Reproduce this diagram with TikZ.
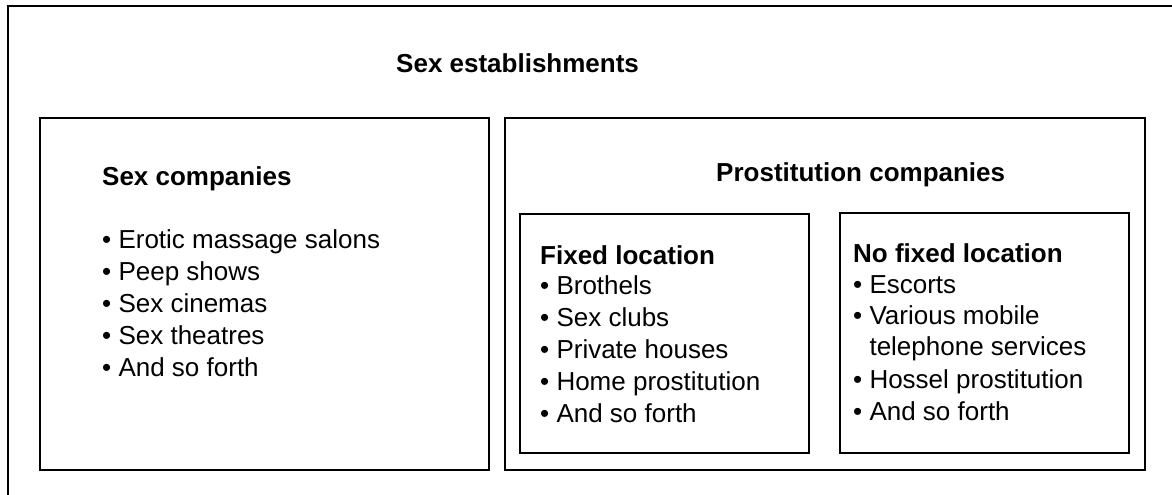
\documentclass[tikz,border=0pt]{standalone}
\usepackage{fontspec}
\setmainfont{Liberation Sans}
\begin{document}
\begin{tikzpicture}[x=1pt,y=-1pt,
  frame/.style={draw, line width=1.8pt, inner sep=0pt, anchor=north west},
  head/.style={font=\fontsize{26}{31}\selectfont\bfseries, anchor=base west, inner sep=0pt},
  item/.style={font=\fontsize{26}{31}\selectfont, anchor=base west, inner sep=0pt}]
\useasboundingbox (0,0) rectangle (1172,495);
% outer frame (cropped at the right and bottom)
\node[frame, minimum width=1200pt, minimum height=520pt] (outer) at (7,5) {};
\node[head] (title) at (396,72) {Sex establishments};
% sex companies
\node[frame, minimum width=449pt, minimum height=352pt] (sexbox) at (39,117) {};
\node[head] (sexhead) at (102,185) {Sex companies};
\foreach \t [count=\i] in {Erotic massage salons, Peep shows, Sex cinemas, Sex theatres, And so forth}
  \node[item] (s\i) at (102,{248+32*(\i-1)}) {• \t};
% prostitution companies
\node[frame, minimum width=640pt, minimum height=352pt] (probox) at (504,117) {};
\node[head] (prohead) at (716,181) {Prostitution companies};
% fixed location
\node[frame, minimum width=289pt, minimum height=239pt] (fixbox) at (519,213) {};
\node[head] (fixhead) at (540,264) {Fixed location};
\foreach \t [count=\i] in {Brothels, Sex clubs, Private houses, Home prostitution, And so forth}
  \node[item] (f\i) at (540,{294+32.2*(\i-1)}) {• \t};
% no fixed location
\node[frame, minimum width=289pt, minimum height=240pt] (nofixbox) at (839,212) {};
\node[head] (nofixhead) at (853,262) {No fixed location};
\node[item] (n1) at (853,293) {• Escorts};
\node[item] (n2) at (853,324) {• Various mobile};
\node[item] (n3) at (853,355) {\hphantom{• }telephone services};
\node[item] (n4) at (853,388) {• Hossel prostitution};
\node[item] (n5) at (853,420) {• And so forth};
\end{tikzpicture}
\end{document}
